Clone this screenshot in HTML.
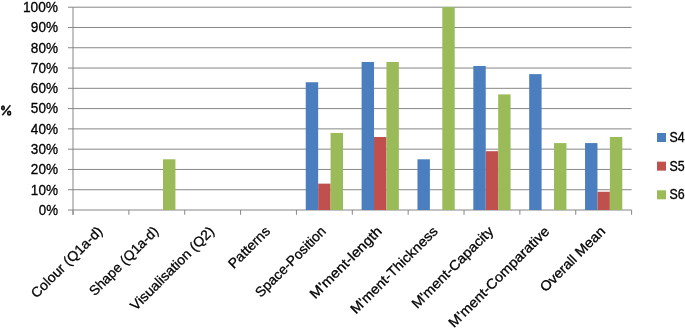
<!DOCTYPE html>
<html><head><meta charset="utf-8"><style>
html,body{margin:0;padding:0;background:#fff;}
body{width:685px;height:329px;overflow:hidden;}
svg{display:block;will-change:transform;}
.t{font-family:"Liberation Sans",sans-serif;font-size:13.75px;fill:#000;stroke:#000;stroke-width:0.3px;}
.b{font-family:"Liberation Sans",sans-serif;font-size:13.75px;font-weight:bold;fill:#000;stroke:#000;stroke-width:0.6px;}
</style></head><body>
<svg width="685" height="329" viewBox="0 0 685 329">
<line x1="68" y1="210.00" x2="631.60" y2="210.00" stroke="#868686" stroke-width="1"/>
<line x1="68" y1="189.72" x2="631.60" y2="189.72" stroke="#868686" stroke-width="1"/>
<line x1="68" y1="169.44" x2="631.60" y2="169.44" stroke="#868686" stroke-width="1"/>
<line x1="68" y1="149.16" x2="631.60" y2="149.16" stroke="#868686" stroke-width="1"/>
<line x1="68" y1="128.88" x2="631.60" y2="128.88" stroke="#868686" stroke-width="1"/>
<line x1="68" y1="108.60" x2="631.60" y2="108.60" stroke="#868686" stroke-width="1"/>
<line x1="68" y1="88.32" x2="631.60" y2="88.32" stroke="#868686" stroke-width="1"/>
<line x1="68" y1="68.04" x2="631.60" y2="68.04" stroke="#868686" stroke-width="1"/>
<line x1="68" y1="47.76" x2="631.60" y2="47.76" stroke="#868686" stroke-width="1"/>
<line x1="68" y1="27.48" x2="631.60" y2="27.48" stroke="#868686" stroke-width="1"/>
<line x1="68" y1="7.20" x2="631.60" y2="7.20" stroke="#868686" stroke-width="1"/>
<line x1="73.0" y1="7.2" x2="73.0" y2="214.8" stroke="#868686" stroke-width="1"/>
<line x1="73.00" y1="210.0" x2="73.00" y2="214.8" stroke="#868686" stroke-width="1"/>
<line x1="128.86" y1="210.0" x2="128.86" y2="214.8" stroke="#868686" stroke-width="1"/>
<line x1="184.72" y1="210.0" x2="184.72" y2="214.8" stroke="#868686" stroke-width="1"/>
<line x1="240.58" y1="210.0" x2="240.58" y2="214.8" stroke="#868686" stroke-width="1"/>
<line x1="296.44" y1="210.0" x2="296.44" y2="214.8" stroke="#868686" stroke-width="1"/>
<line x1="352.30" y1="210.0" x2="352.30" y2="214.8" stroke="#868686" stroke-width="1"/>
<line x1="408.16" y1="210.0" x2="408.16" y2="214.8" stroke="#868686" stroke-width="1"/>
<line x1="464.02" y1="210.0" x2="464.02" y2="214.8" stroke="#868686" stroke-width="1"/>
<line x1="519.88" y1="210.0" x2="519.88" y2="214.8" stroke="#868686" stroke-width="1"/>
<line x1="575.74" y1="210.0" x2="575.74" y2="214.8" stroke="#868686" stroke-width="1"/>
<line x1="631.60" y1="210.0" x2="631.60" y2="214.8" stroke="#868686" stroke-width="1"/>
<rect x="163.00" y="159.30" width="12.41" height="50.70" fill="#9BBB59"/>
<rect x="305.75" y="82.24" width="12.41" height="127.76" fill="#4B7EBE"/>
<rect x="318.16" y="183.64" width="12.41" height="26.36" fill="#C0504D"/>
<rect x="330.58" y="132.94" width="12.41" height="77.06" fill="#9BBB59"/>
<rect x="361.61" y="61.96" width="12.41" height="148.04" fill="#4B7EBE"/>
<rect x="374.02" y="136.99" width="12.41" height="73.01" fill="#C0504D"/>
<rect x="386.44" y="61.96" width="12.41" height="148.04" fill="#9BBB59"/>
<rect x="417.47" y="159.30" width="12.41" height="50.70" fill="#4B7EBE"/>
<rect x="442.30" y="7.20" width="12.41" height="202.80" fill="#9BBB59"/>
<rect x="473.33" y="66.01" width="12.41" height="143.99" fill="#4B7EBE"/>
<rect x="485.74" y="151.19" width="12.41" height="58.81" fill="#C0504D"/>
<rect x="498.16" y="94.40" width="12.41" height="115.60" fill="#9BBB59"/>
<rect x="529.19" y="74.12" width="12.41" height="135.88" fill="#4B7EBE"/>
<rect x="554.02" y="143.08" width="12.41" height="66.92" fill="#9BBB59"/>
<rect x="585.05" y="143.08" width="12.41" height="66.92" fill="#4B7EBE"/>
<rect x="597.46" y="191.75" width="12.41" height="18.25" fill="#C0504D"/>
<rect x="609.88" y="136.99" width="12.41" height="73.01" fill="#9BBB59"/>
<text x="58.0" y="214.80" text-anchor="end" class="t" textLength="19.19" lengthAdjust="spacingAndGlyphs">0%</text>
<text x="58.0" y="194.52" text-anchor="end" class="t" textLength="27.15" lengthAdjust="spacingAndGlyphs">10%</text>
<text x="58.0" y="174.24" text-anchor="end" class="t" textLength="27.15" lengthAdjust="spacingAndGlyphs">20%</text>
<text x="58.0" y="153.96" text-anchor="end" class="t" textLength="27.15" lengthAdjust="spacingAndGlyphs">30%</text>
<text x="58.0" y="133.68" text-anchor="end" class="t" textLength="27.15" lengthAdjust="spacingAndGlyphs">40%</text>
<text x="58.0" y="113.40" text-anchor="end" class="t" textLength="27.15" lengthAdjust="spacingAndGlyphs">50%</text>
<text x="58.0" y="93.12" text-anchor="end" class="t" textLength="27.15" lengthAdjust="spacingAndGlyphs">60%</text>
<text x="58.0" y="72.84" text-anchor="end" class="t" textLength="27.15" lengthAdjust="spacingAndGlyphs">70%</text>
<text x="58.0" y="52.56" text-anchor="end" class="t" textLength="27.15" lengthAdjust="spacingAndGlyphs">80%</text>
<text x="58.0" y="32.28" text-anchor="end" class="t" textLength="27.15" lengthAdjust="spacingAndGlyphs">90%</text>
<text x="58.0" y="12.00" text-anchor="end" class="t" textLength="35.11" lengthAdjust="spacingAndGlyphs">100%</text>
<text transform="translate(103.33,232.10) rotate(-45)" text-anchor="end" class="t" textLength="94.42" lengthAdjust="spacingAndGlyphs">Colour (Q1a-d)</text>
<text transform="translate(159.19,232.10) rotate(-45)" text-anchor="end" class="t" textLength="91.22" lengthAdjust="spacingAndGlyphs">Shape (Q1a-d)</text>
<text transform="translate(215.05,232.10) rotate(-45)" text-anchor="end" class="t" textLength="112.00" lengthAdjust="spacingAndGlyphs">Visualisation (Q2)</text>
<text transform="translate(270.91,232.10) rotate(-45)" text-anchor="end" class="t" textLength="52.61" lengthAdjust="spacingAndGlyphs">Patterns</text>
<text transform="translate(326.77,232.10) rotate(-45)" text-anchor="end" class="t" textLength="93.34" lengthAdjust="spacingAndGlyphs">Space-Position</text>
<text transform="translate(382.63,232.10) rotate(-45)" text-anchor="end" class="t" textLength="95.25" lengthAdjust="spacingAndGlyphs">M'ment-length</text>
<text transform="translate(438.49,232.10) rotate(-45)" text-anchor="end" class="t" textLength="116.54" lengthAdjust="spacingAndGlyphs">M'ment-Thickness</text>
<text transform="translate(494.35,232.10) rotate(-45)" text-anchor="end" class="t" textLength="109.19" lengthAdjust="spacingAndGlyphs">M'ment-Capacity</text>
<text transform="translate(550.21,232.10) rotate(-45)" text-anchor="end" class="t" textLength="135.91" lengthAdjust="spacingAndGlyphs">M'ment-Comparative</text>
<text transform="translate(606.07,232.10) rotate(-45)" text-anchor="end" class="t" textLength="85.58" lengthAdjust="spacingAndGlyphs">Overall Mean</text>
<rect x="657" y="133.0" width="9" height="9" fill="#4B7EBE"/>
<text x="669.5" y="142.00" class="t" textLength="15.17" lengthAdjust="spacingAndGlyphs">S4</text>
<rect x="657" y="161.65" width="9" height="9" fill="#C0504D"/>
<text x="669.5" y="170.65" class="t" textLength="15.17" lengthAdjust="spacingAndGlyphs">S5</text>
<rect x="657" y="190.3" width="9" height="9" fill="#9BBB59"/>
<text x="669.5" y="199.30" class="t" textLength="15.17" lengthAdjust="spacingAndGlyphs">S6</text>
<g fill="none" stroke="#111" stroke-width="1.7"><ellipse cx="3.0" cy="107.9" rx="1.2" ry="1.75"/><ellipse cx="9.15" cy="113.2" rx="1.4" ry="1.75"/><line x1="10.4" y1="105.3" x2="2.3" y2="115.3" stroke-width="1.5"/></g>
</svg>
</body></html>
